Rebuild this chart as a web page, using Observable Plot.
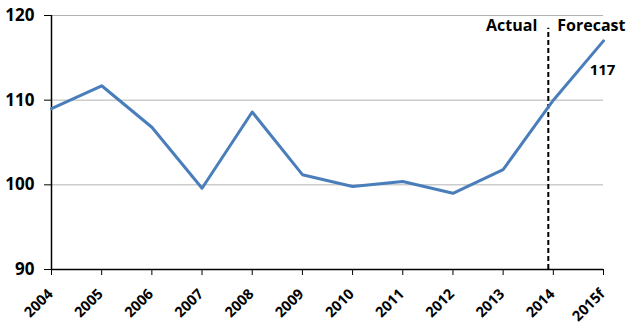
<!DOCTYPE html>
<html>
<head>
<meta charset="utf-8">
<script src="https://cdn.jsdelivr.net/npm/d3@7"></script>
<script src="https://cdn.jsdelivr.net/npm/@observablehq/plot@0.6"></script>
<style>
  html, body { margin: 0; padding: 0; background: #fff; }
  #chart svg { display: block; }
</style>
</head>
<body>
<div id="chart"></div>
<script>
const years = ["2004","2005","2006","2007","2008","2009","2010","2011","2012","2013","2014","2015f"];
const values = [109.0, 111.7, 106.8, 99.6, 108.6, 101.2, 99.8, 100.4, 99.0, 101.8, 110.0, 117.0];
const yTicks = [90, 100, 110, 120];
const dividerIndex = 9.9;
const leftLabel = "Actual";
const rightLabel = "Forecast";
const endLabel = "117";

const data = years.map((y, i) => ({i, year: y, value: values[i]}));
const font = "'Open Sans', sans-serif";

const chart = Plot.plot({
  width: 627,
  height: 327,
  marginLeft: 51,
  marginRight: 24,
  marginTop: 15,
  marginBottom: 58,
  style: {fontFamily: font, fontWeight: "bold", color: "#000", background: "#fff"},
  x: {type: "linear", domain: [0, years.length - 1], axis: null},
  y: {domain: [90, 120], axis: null},
  marks: [
    Plot.gridY(yTicks.filter(d => d > 90), {stroke: "#b3b3b3", strokeOpacity: 1, strokeWidth: 1}),
    Plot.ruleY([90], {stroke: "#000", strokeWidth: 1.5}),
    Plot.ruleX([0], {stroke: "#000", strokeWidth: 1.5}),
    Plot.axisY(yTicks, {tickSize: 7, tickFormat: d => d, fontSize: 17, fontWeight: "bold", tickPadding: 10, stroke: "#000", fill: "#000", label: null}),
    Plot.axisX(d3.range(years.length), {tickSize: 6, tickFormat: () => "", label: null, stroke: "#000"}),
    Plot.text(data, {x: "i", y: 90, text: "year", rotate: -45, textAnchor: "end", lineAnchor: "middle", dx: -1, dy: 22, fontSize: 14.5, fontWeight: "bold", fill: "#000"}),
    Plot.ruleX([dividerIndex], {y1: 90, y2: 118.5, stroke: "#000", strokeWidth: 2, strokeDasharray: "5,3"}),
    Plot.line(data, {x: "i", y: "value", stroke: "#4a7ebb", strokeWidth: 3, strokeLinejoin: "round"}),
    Plot.text([leftLabel], {x: dividerIndex, y: 118.8, text: d => d, textAnchor: "end", dx: -11, fontSize: 16, fontWeight: "bold", fill: "#000"}),
    Plot.text([rightLabel], {x: dividerIndex, y: 118.8, text: d => d, textAnchor: "start", dx: 9, fontSize: 16, fontWeight: "bold", fill: "#000"}),
    Plot.text([data[data.length - 1]], {x: "i", y: "value", text: () => endLabel, dx: -1, dy: 29, fontSize: 15, fontWeight: "bold", fill: "#000"})
  ]
});
document.getElementById("chart").appendChild(chart);
</script>
</body>
</html>
